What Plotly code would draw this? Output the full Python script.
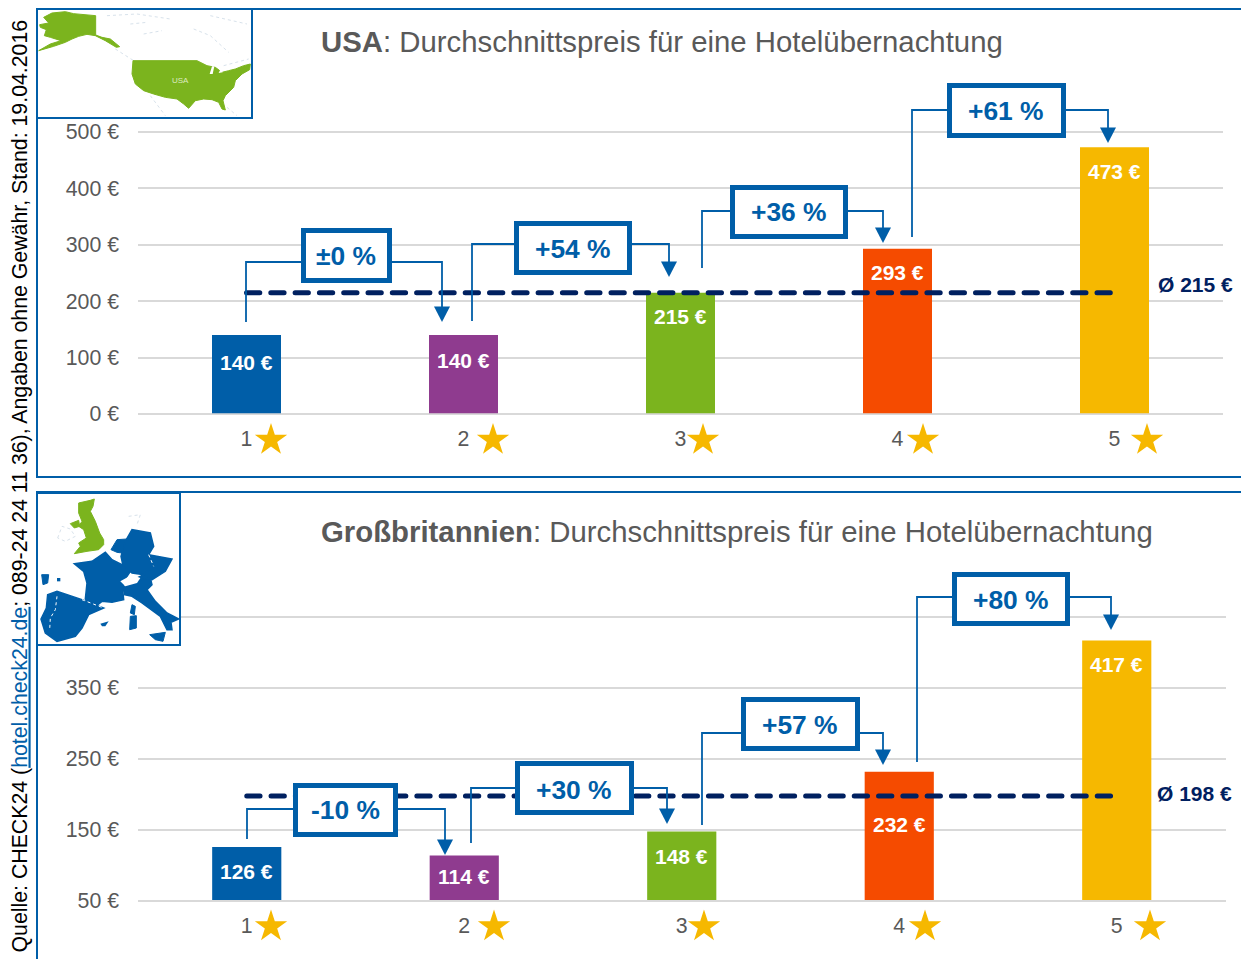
import math
import plotly.graph_objects as go

W, H = 1241, 959
FONT = "Liberation Sans"
BLUE = "#005EA8"
GREY = "#595959"
NAVY = "#002060"
GRID = "#D9D9D9"
GOLD = "#F6B800"
GREEN = "#7BB41E"
FAINT = "#D8E2EB"

# ---- data ----
stars = [1, 2, 3, 4, 5]
usa_prices = [140, 140, 215, 293, 473]
gb_prices = [126, 114, 148, 232, 417]
usa_avg = 215
gb_avg = 198
bar_colors = ["#005EA8", "#8F3B8F", "#7BB41E", "#F54B00", "#F6B800"]
usa_changes = ["±0 %", "+54 %", "+36 %", "+61 %"]
gb_changes = ["-10 %", "+30 %", "+57 %", "+80 %"]
usa_title = "<b>USA</b>: Durchschnittspreis für eine Hotelübernachtung"
gb_title = "<b>Großbritannien</b>: Durchschnittspreis für eine Hotelübernachtung"
source = ("Quelle: CHECK24 (<span style='color:#005EA8'><u>hotel.check24.de</u></span>; "
          "089-24 24 11 36), Angaben ohne Gewähr, Stand: 19.04.2016")

# ---- layout helpers (pixel to paper) ----
def fx(x): return x / W
def fy(y): return 1 - y / H

def poly(points, close=True):
    s = "M" + " L".join(f"{fx(x):.5f},{fy(y):.5f}" for x, y in points)
    return s + (" Z" if close else "")

shapes = []
def add_fill(points, color, stroke=0):
    shapes.append(dict(type="path", xref="paper", yref="paper", path=poly(points),
                       fillcolor=color, line=dict(width=stroke, color=color), layer="above"))
def add_line(points, color=BLUE, width=2, dash="solid"):
    shapes.append(dict(type="path", xref="paper", yref="paper", path=poly(points, False),
                       line=dict(color=color, width=width, dash=dash), layer="above"))
def add_rect(x0, y0, x1, y1, line, width, fill="rgba(0,0,0,0)"):
    shapes.append(dict(type="rect", xref="paper", yref="paper", x0=fx(x0), x1=fx(x1),
                       y0=fy(y0), y1=fy(y1), fillcolor=fill,
                       line=dict(color=line, width=width), layer="above"))
def add_star(cx, cy, r=17):
    pts = []
    for i in range(10):
        a = -math.pi / 2 + i * math.pi / 5
        rr = r if i % 2 == 0 else r * 0.382
        pts.append((cx + rr * math.cos(a), cy + rr * math.sin(a)))
    add_fill(pts, GOLD)

annotations = []
def add_text(x, y, text, size, color, xanchor="center", yanchor="middle", **kw):
    annotations.append(dict(xref="paper", yref="paper", x=fx(x), y=fy(y), text=text,
                            showarrow=False, xanchor=xanchor, yanchor=yanchor,
                            font=dict(family=FONT, size=size, color=color), **kw))

def callout(box, text, left, right, dy=1):
    (x0, y0, x1, y1) = box
    lx, ly_bot, ly = left
    rx, ry, tip = right
    add_line([(lx, ly_bot), (lx, ly), (x0, ly)], width=1.8)
    add_line([(x1, ry), (rx, ry), (rx, tip - 14)], width=1.8)
    add_fill([(rx - 8, tip - 15.5), (rx + 8, tip - 15.5), (rx, tip)], BLUE)
    add_rect(x0 + 2.5, y0 + 2.5, x1 - 2.5, y1 - 2.5, BLUE, 5, "white")
    add_text((x0 + x1) / 2 - 0.5, (y0 + y1) / 2 + dy, f"<b>{text}</b>", 26.4, BLUE)

# ---- figure ----
fig = go.Figure()

def panel(n, prices, avg, xdom, ydom, yrange, tick0, base, label_offsets):
    xa, ya = f"x{n}", f"y{n}"
    # Bars start just above the baseline gridline, which stays visible below them.
    fig.add_trace(go.Bar(x=stars, y=[p - base for p in prices], base=base,
                         marker=dict(color=bar_colors, line=dict(width=0)),
                         xaxis=xa, yaxis=ya, width=0.318, hoverinfo="x", showlegend=False))
    fig.add_trace(go.Scatter(x=stars, y=[avg] * len(stars), mode="lines", xaxis=xa, yaxis=ya,
                             line=dict(color=NAVY, width=5, dash="13.3px,11px"),
                             hoverinfo="y", showlegend=False))
    axis_x = dict(domain=[fx(xdom[0]), fx(xdom[1])], anchor=ya, range=[0.5, 5.5], tick0=1, dtick=1,
                  automargin=False, showgrid=False, showline=False, zeroline=False, ticks="",
                  ticklabelstandoff=8, tickfont=dict(family=FONT, size=21.3, color=GREY))
    axis_y = dict(domain=[fy(ydom[1]), fy(ydom[0])], anchor=xa, range=yrange, tick0=tick0, dtick=100,
                  automargin=False, showgrid=True, gridcolor=GRID, gridwidth=2, zeroline=False,
                  showline=False, ticks="", ticksuffix=" €", ticklabelstandoff=18,
                  tickfont=dict(family=FONT, size=21.3, color=GREY))
    fig.update_layout({f"xaxis{'' if n == 1 else n}": axis_x, f"yaxis{'' if n == 1 else n}": axis_y})
    for s, p, off in zip(stars, prices, label_offsets):
        annotations.append(dict(xref=xa, yref=ya, x=s, y=p, text=f"<b>{p} €</b>", showarrow=False,
                                yshift=-off, yanchor="middle",
                                font=dict(family=FONT, size=21, color="white")))

# The axis spans reach 2 px past the outer gridlines so that these are drawn too.
panel(1, usa_prices, usa_avg, (138, 1223), (130, 416), [-3.546, 503.546], 0, 1.5, [27, 25, 24, 24, 24])
panel(2, gb_prices, gb_avg, (138, 1225.5), (615, 903), [47.18, 452.82], 50, 51.4, [24, 21, 25, 53, 24])

# ---- frames ----
add_rect(37, 9, 1260, 477, BLUE, 2)
add_rect(37, 492, 1260, 990, BLUE, 2)

# ---- callouts ----
callout((301, 228, 392, 283), usa_changes[0], (246, 322, 262), (442, 262, 322))
callout((514, 221, 632, 275), usa_changes[1], (472, 321, 244), (669, 244, 277))
callout((730, 185, 848, 239), usa_changes[2], (702, 268, 211), (883, 211, 243), dy=0)
callout((947, 83, 1066, 138), usa_changes[3], (912, 237, 110), (1108, 110, 143), dy=0)
callout((293, 783, 398, 837), gb_changes[0], (247, 839, 809), (445, 809, 855), dy=0)
callout((515, 761, 634, 815), gb_changes[1], (471, 843, 788), (667, 788, 824), dy=2)
callout((741, 697, 860, 751), gb_changes[2], (702, 825, 733), (883, 733, 765))
callout((952, 572, 1070, 626), gb_changes[3], (917, 762, 597), (1111, 597, 630))

# ---- stars on the category axis ----
for cx in (271, 493, 703, 923, 1147):
    add_star(cx, 440)
for cx in (271, 494, 704, 925, 1150):
    add_star(cx, 926.5)

# ---- map insets (schematic outlines) ----
def m1(pts): return [(x / 3 + 37, y / 3 + 9) for x, y in pts]
def m2(pts): return [(x / 3 + 37, y / 3 + 493) for x, y in pts]

add_rect(37, 9, 252, 118, BLUE, 2, "white")
for faint in ([(210, 20), (300, 15), (400, 30)], [(280, 45), (330, 40)], [(320, 75), (375, 65)],
              [(470, 60), (520, 80), (575, 130)], [(520, 20), (630, 45)], [(235, 120), (290, 155)],
              [(340, 260), (385, 320)], [(570, 295), (600, 320)], [(560, 170), (635, 150)]):
    add_line(m1(faint), FAINT, 1, "dot")
add_fill(m1([(8, 47), (35, 42), (20, 25), (45, 12), (85, 8), (110, 14), (176, 20), (176, 78), (195, 85), (220, 90),
             (248, 113), (238, 115), (205, 95), (175, 80), (150, 76), (125, 82), (105, 90), (85, 100), (50, 112),
             (5, 125), (40, 105), (72, 95), (40, 85), (22, 80), (28, 62), (10, 55)]), GREEN, 1)
add_fill(m1([(288, 155), (480, 155), (510, 170), (535, 175), (555, 190), (575, 185), (595, 180), (620, 170), (640, 165),
             (638, 182), (615, 195), (595, 215), (590, 235), (565, 260), (558, 275), (565, 303), (555, 300), (545, 280),
             (525, 272), (500, 270), (475, 275), (455, 298), (440, 285), (420, 270), (385, 265), (350, 255), (320, 245),
             (295, 225), (285, 195)]), GREEN, 1)
add_fill(m1([(518, 195), (525, 172), (532, 172), (527, 195)]), "white")
add_fill(m1([(545, 192), (552, 178), (557, 190)]), "white")
add_text(180, 80, "USA", 8, "#DDEBC0")

add_rect(37, 493, 180, 645, BLUE, 2, "white")
add_line(m2([(62, 135), (75, 100), (100, 108), (115, 130), (85, 145), (62, 135)]), FAINT, 1, "dot")
add_line(m2([(275, 70), (310, 65), (300, 95)]), FAINT, 1, "dot")
add_fill(m2([(125, 30), (160, 22), (172, 18), (168, 40), (160, 55), (175, 85), (188, 120), (200, 140), (200, 155), (185, 170),
             (150, 175), (112, 182), (130, 160), (125, 150), (148, 135), (140, 110), (125, 100), (135, 85), (125, 60)]), GREEN, 1)
add_fill(m2([(100, 92), (125, 82), (128, 100), (112, 105)]), GREEN, 1)
EU = BLUE
add_fill(m2([(112, 212), (165, 205), (205, 178), (225, 200), (255, 215), (280, 235), (262, 262), (258, 300), (260, 320),
             (225, 328), (195, 325), (170, 345), (145, 318), (150, 270), (140, 235)]), EU, 1.5)
add_fill(m2([(32, 305), (60, 295), (135, 320), (200, 345), (155, 365), (135, 405), (115, 430), (60, 445), (25, 420),
             (12, 378), (28, 345)]), EU, 1.5)
add_fill(m2([(222, 170), (240, 140), (270, 138), (265, 165), (255, 180), (240, 178)]), EU, 1)
add_fill(m2([(252, 190), (265, 145), (285, 110), (340, 120), (350, 160), (335, 185), (350, 220), (320, 245), (285, 240), (258, 218)]), EU, 1.5)
add_fill(m2([(335, 185), (405, 198), (385, 235), (345, 260), (290, 260), (320, 245), (350, 220)]), EU, 1.5)
add_fill(m2([(262, 282), (300, 262), (340, 255), (345, 275), (330, 290), (355, 325), (390, 360), (425, 378), (402, 388),
             (405, 410), (390, 410), (370, 370), (315, 330), (285, 310), (262, 305)]), EU, 1.5)
add_fill(m2([(250, 265), (285, 245), (310, 255), (300, 270), (265, 280)]), "white")
add_fill(m2([(285, 335), (295, 340), (292, 365), (280, 360)]), EU, 1)
add_fill(m2([(280, 370), (298, 368), (298, 405), (278, 410)]), EU, 1)
add_fill(m2([(338, 425), (385, 418), (378, 445), (355, 440)]), EU, 1)
add_fill(m2([(14, 245), (35, 245), (32, 270), (18, 275)]), EU, 1)
add_fill(m2([(60, 255), (70, 255), (70, 265), (60, 265)]), EU)
add_fill(m2([(190, 392), (215, 385), (205, 400), (195, 400)]), EU)
for border in ([(60, 310), (55, 350), (40, 375), (38, 410)], [(135, 320), (200, 345)], [(335, 185), (350, 220)]):
    add_line(m2(border), "white", 1, "dot")

# ---- free text ----
add_text(319, 42, usa_title, 29.35, GREY, xanchor="left")
add_text(319, 531, gb_title, 29.35, GREY, xanchor="left")
add_text(1235, 285, f"<b>Ø {usa_avg} €</b>", 21, NAVY, xanchor="right")
add_text(1234, 793, f"<b>Ø {gb_avg} €</b>", 21, NAVY, xanchor="right")
add_text(19, 18, source, 21.3, "black", yanchor="top", textangle=-90)

fig.update_layout(width=W, height=H, autosize=False, margin=dict(l=0, r=0, t=0, b=0),
                  paper_bgcolor="white", plot_bgcolor="white", showlegend=False,
                  bargap=0.68, shapes=shapes, annotations=annotations,
                  font=dict(family=FONT))

post = """
document.body.style.margin='0';
document.body.style.overflow='hidden';
var st=document.createElement('style');
st.textContent='.scatterlayer .js-line{stroke-linecap:round}';
document.head.appendChild(st);
"""
fig.write_html("out.html", post_script=post, config={"displayModeBar": False})
